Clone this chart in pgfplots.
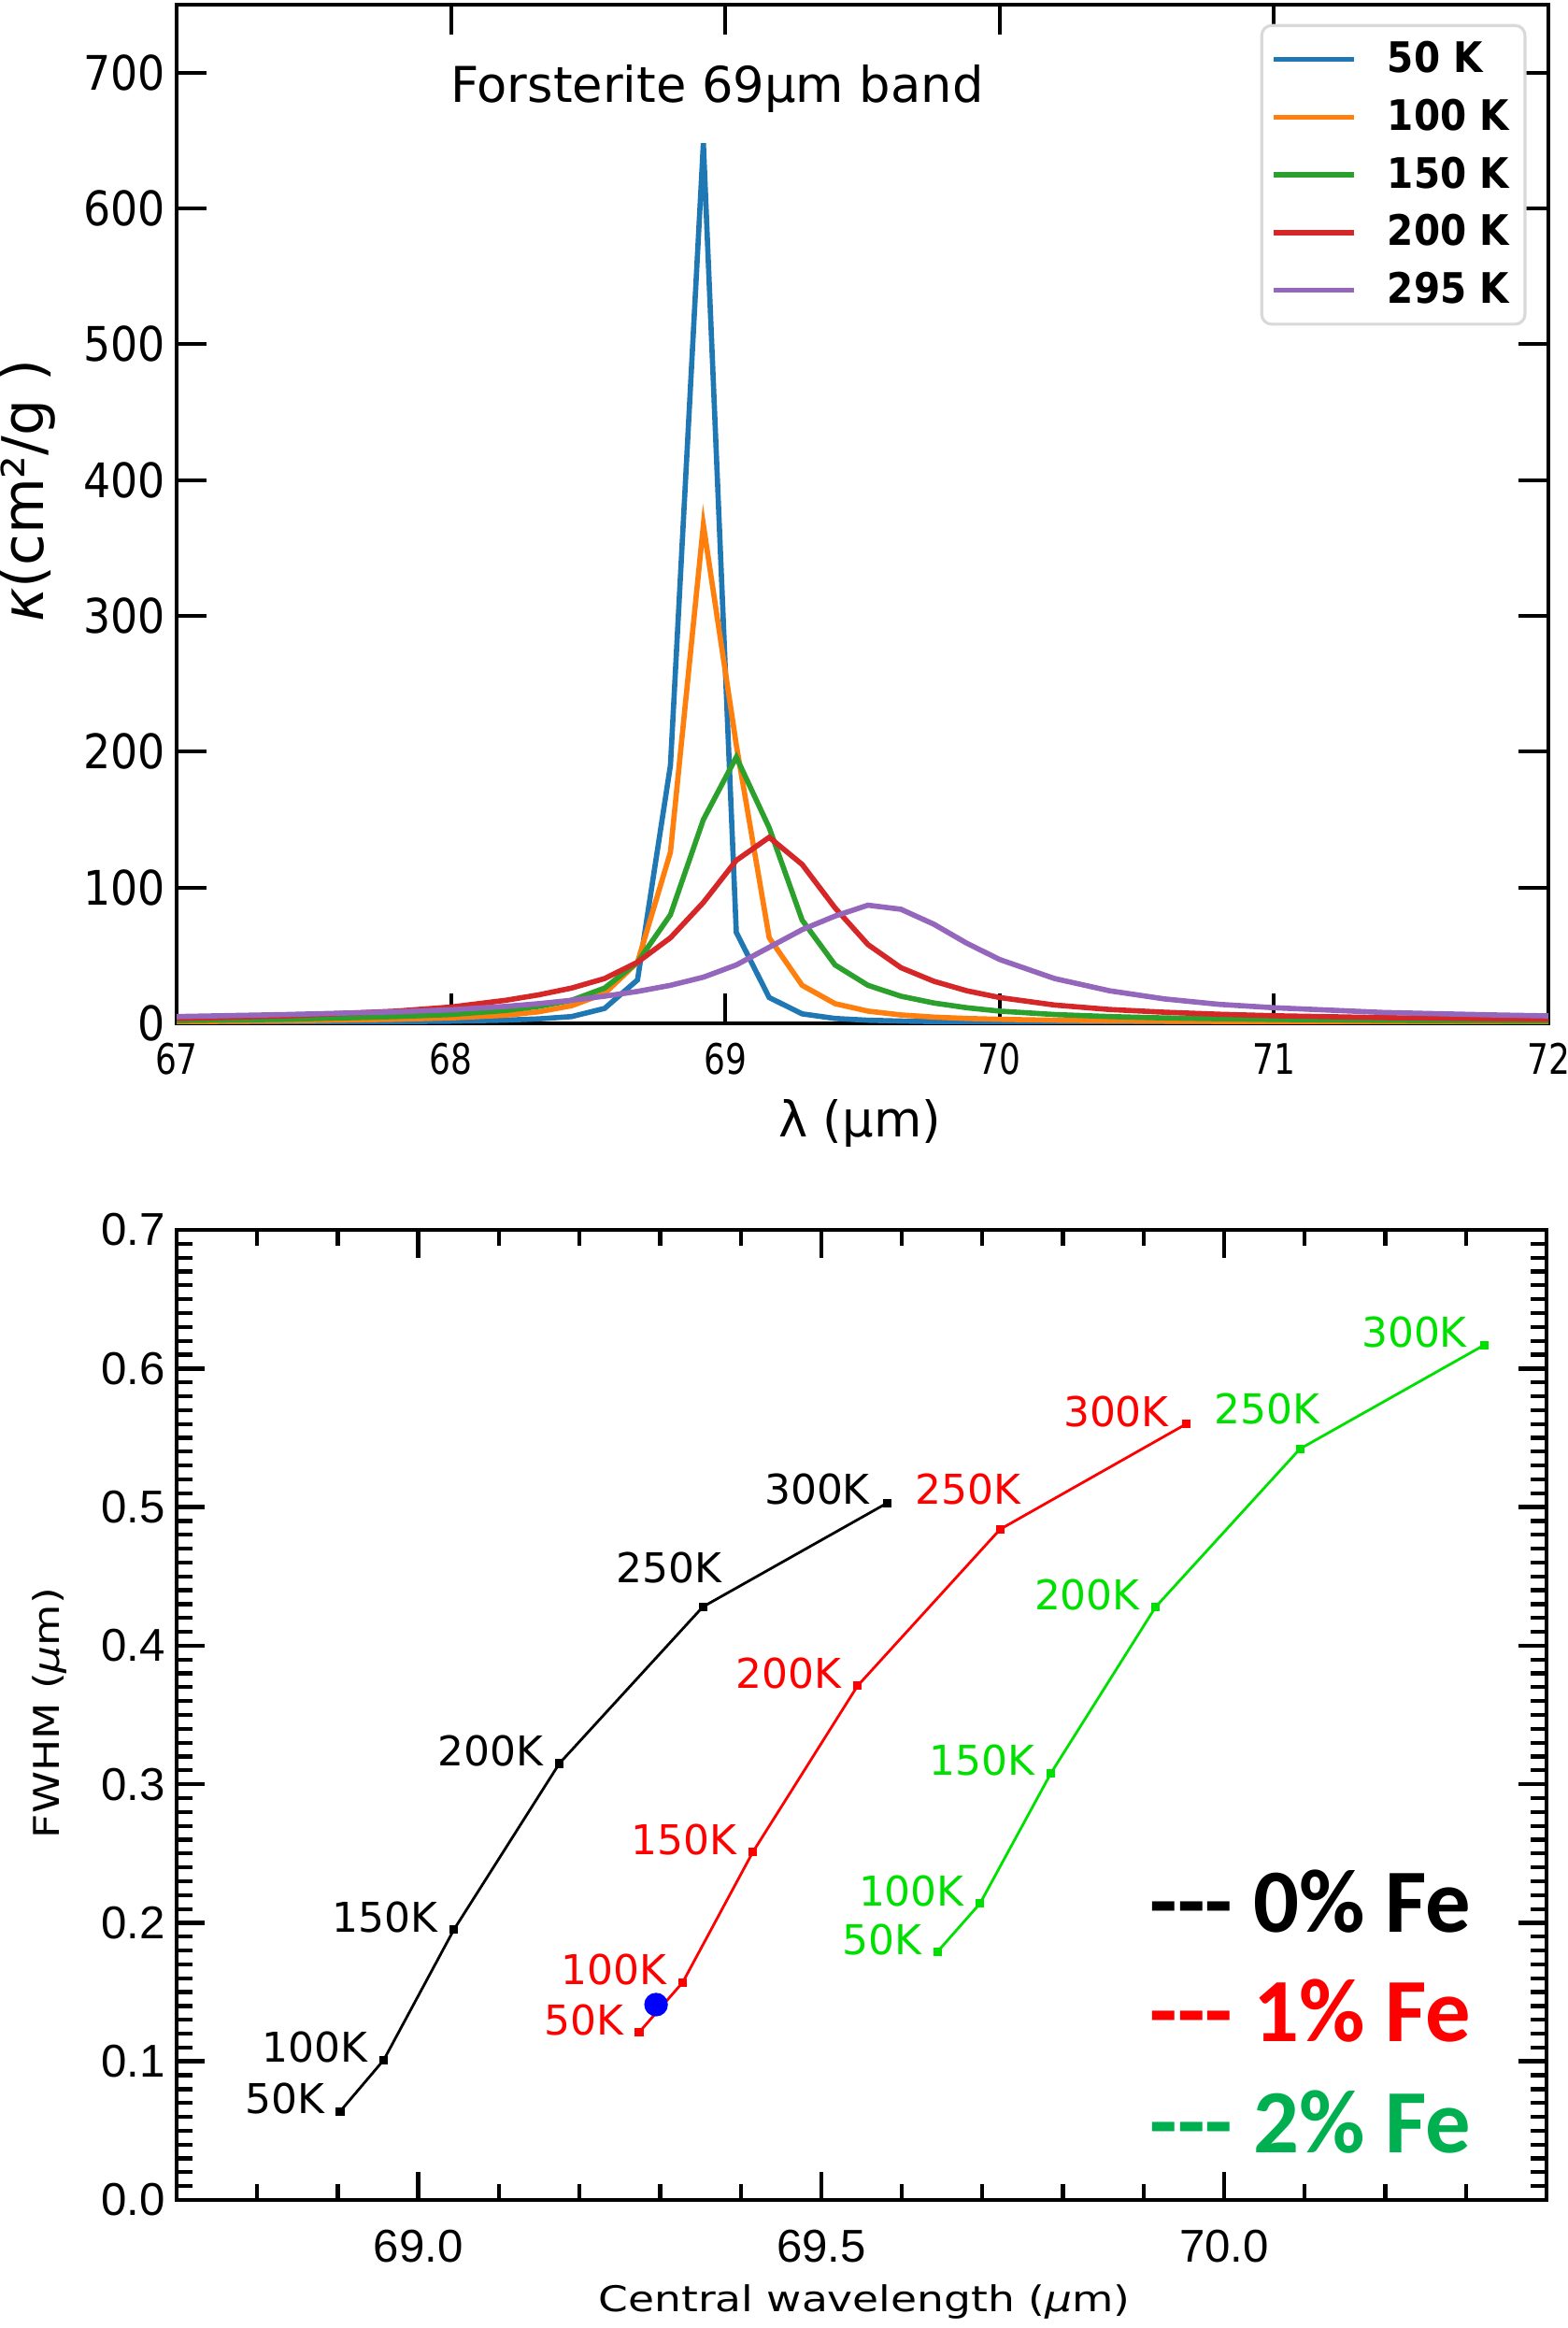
\documentclass[border=0pt]{standalone}
\usepackage{fontspec}
\setmainfont{DejaVu Sans}
\newfontfamily\mplfont[FakeStretch=0.9]{DejaVu Sans}
\newfontfamily\mplx[FakeStretch=0.8]{DejaVu Sans}
\newfontfamily\hersh[FakeStretch=1.2]{DejaVu Sans}
\newfontfamily\lib{Liberation Sans}
\newfontfamily\carl{Carlito}
\usepackage{pgfplots}
\pgfplotsset{compat=1.18}
\definecolor{cA}{HTML}{1F77B4}
\definecolor{cB}{HTML}{FF7F0E}
\definecolor{cC}{HTML}{2CA02C}
\definecolor{cD}{HTML}{D62728}
\definecolor{cE}{HTML}{9467BD}
\definecolor{idlgreen}{HTML}{00E000}
\definecolor{idlred}{HTML}{FF0000}
\definecolor{fegreen}{HTML}{00B050}

\pgfplotstableread{
x      k50   k100  k150  k200  k295
67.00  0.5   1.2   2.0   3.5   5.0
67.40  0.8   1.8   3.0   5.5   6.5
67.80  1.2   3.0   5.0   9.0   8.5
68.00  1.6   4.0   6.5   12    10
68.20  2.4   6.0   9.5   17    12.5
68.32  3.3   8.5   12.5  21    14.5
68.44  5     13    17    26    17
68.56  11    22    26    33    20
68.68  32    45    45    45    23.5
68.80  190   126   80    63    28
68.92  648   367   150   89    34
69.04  67    205   196   120   43
69.16  19    63    144   137   56
69.28  7     28    76    117   69
69.40  3.6   14.5  43    85    79
69.52  2.3   9     28    58    87
69.64  1.7   6.2   20    41    84
69.76  1.3   4.6   15    31    73
69.88  1.1   3.6   11.5  24    59
70.00  0.9   3.0   9     19    47
70.20  0.7   2.3   6.5   13.5  33
70.40  0.6   1.9   5     10.2  24
70.60  0.5   1.6   4     8.2   18
70.80  0.45  1.4   3.4   6.7   14
71.00  0.4   1.2   2.9   5.6   11.5
71.40  0.35  1.0   2.2   4.2   8
71.80  0.3   0.85  1.8   3.3   6.2
72.00  0.3   0.8   1.6   3.0   5.5
}\kappatab

\pgfplotstableread{
x       y
68.903  0.064
68.957  0.101
69.044  0.195
69.175  0.315
69.353  0.428
69.582  0.503
}\feA
\pgfplotstableread{
x       y
69.274  0.121
69.328  0.157
69.415  0.251
69.545  0.371
69.722  0.484
69.953  0.560
}\feB
\pgfplotstableread{
x       y
69.644  0.179
69.697  0.214
69.785  0.308
69.915  0.428
70.094  0.542
70.323  0.617
}\feC

\begin{document}
\begin{tikzpicture}
\path[use as bounding box] (0,0) rectangle (167.8mm,-249.1mm);

% ---------------- top panel ----------------
\begin{axis}[
  at={(18.9mm,-109.5mm)}, anchor=south west,
  scale only axis, width=146.8mm, height=109mm,
  xmin=67, xmax=72, ymin=0, ymax=750,
  xtick={67,68,69,70,71,72},
  ytick={0,100,200,300,400,500,600,700},
  tick align=inside, major tick length=3.2mm,
  major tick style={draw=black, line width=1.1pt},
  axis line style={line width=1.4pt},
  /pgf/number format/assume math mode=true,
  x tick label style={font=\mplx\fontsize{12.8}{13}\selectfont, yshift=-0.9mm},
  y tick label style={font=\mplfont\fontsize{14.5}{15}\selectfont},
  legend style={at={(rel axis cs:0.984,0.981)}, anchor=north east,
    draw=black!15, line width=0.9pt, rounded corners=3pt,
    font=\mplfont\bfseries\fontsize{12.8}{13}\selectfont,
    inner xsep=1.0mm, inner ysep=1.0mm, row sep=0.9mm,
    /tikz/every odd column/.append style={column sep=2.6mm}},
  legend cell align=left,
  legend image code/.code={\draw[#1] (0mm,0mm) -- (8.6mm,0mm);},
]
\addplot[cA, line width=1.6pt] table[x=x,y=k50] {\kappatab};
\addlegendentry{50 K}
\addplot[cB, line width=1.6pt] table[x=x,y=k100] {\kappatab};
\addlegendentry{100 K}
\addplot[cC, line width=1.6pt] table[x=x,y=k150] {\kappatab};
\addlegendentry{150 K}
\addplot[cD, line width=1.6pt] table[x=x,y=k200] {\kappatab};
\addlegendentry{200 K}
\addplot[cE, line width=1.6pt] table[x=x,y=k295] {\kappatab};
\addlegendentry{295 K}
\node[font=\fontsize{15}{15}\selectfont] at (axis cs:68.97,688) {Forsterite 69µm band};
\end{axis}
\node[font=\fontsize{15}{15}\selectfont] at (92mm,-120.2mm) {λ (µm)};
\node[rotate=90, font=\fontsize{17.5}{18}\selectfont] at (3.0mm,-52.5mm) {{\itshape κ}(cm²/g )};

% ---------------- bottom panel ----------------
\begin{axis}[
  at={(18.9mm,-235.4mm)}, anchor=south west,
  scale only axis, width=146.6mm, height=103.8mm,
  xmin=68.7, xmax=70.4, ymin=0, ymax=0.7,
  xtick={69,69.5,70},
  minor xtick={68.8,68.9,69.1,69.2,69.3,69.4,69.6,69.7,69.8,69.9,70.1,70.2,70.3},
  ytick={0,0.1,0.2,0.3,0.4,0.5,0.6,0.7},
  minor ytick={0.01,0.02,0.03,0.04,0.05,0.06,0.07,0.08,0.09,
    0.11,0.12,0.13,0.14,0.15,0.16,0.17,0.18,0.19,
    0.21,0.22,0.23,0.24,0.25,0.26,0.27,0.28,0.29,
    0.31,0.32,0.33,0.34,0.35,0.36,0.37,0.38,0.39,
    0.41,0.42,0.43,0.44,0.45,0.46,0.47,0.48,0.49,
    0.51,0.52,0.53,0.54,0.55,0.56,0.57,0.58,0.59,
    0.61,0.62,0.63,0.64,0.65,0.66,0.67,0.68,0.69},
  tick align=inside, major tick length=3.0mm, minor tick length=1.7mm,
  major tick style={draw=black, line width=1.3pt},
  minor tick style={draw=black, line width=1.2pt},
  axis line style={line width=1.1pt},
  /pgf/number format/assume math mode=true,
  tick label style={font=\lib\fontsize{14}{14}\selectfont},
  xticklabels={69.0,69.5,70.0},
  yticklabels={0.0,0.1,0.2,0.3,0.4,0.5,0.6,0.7},
  x tick label style={yshift=-2.0mm},
]
\addplot[black, line width=0.8pt, mark=square*, mark size=0.9pt] table[x=x,y=y] {\feA};
\addplot[idlred, line width=0.8pt, mark=square*, mark size=0.9pt] table[x=x,y=y] {\feB};
\addplot[idlgreen, line width=0.8pt, mark=square*, mark size=0.9pt] table[x=x,y=y] {\feC};
\addplot[only marks, mark=*, blue, mark size=3.4pt] coordinates {(69.295,0.141)};

\begin{scope}[every node/.style={font=\fontsize{12.5}{12.5}\selectfont, inner sep=0pt, anchor=east}]
% 0% Fe
\node[black] at (axis cs:68.884,0.073) {50K};
\node[black] at (axis cs:68.938,0.110) {100K};
\node[black] at (axis cs:69.025,0.204) {150K};
\node[black] at (axis cs:69.156,0.324) {200K};
\node[black] at (axis cs:69.377,0.456) {250K};
\node[black] at (axis cs:69.561,0.513) {300K};
% 1% Fe
\node[idlred] at (axis cs:69.255,0.130) {50K};
\node[idlred] at (axis cs:69.309,0.166) {100K};
\node[idlred] at (axis cs:69.396,0.260) {150K};
\node[idlred] at (axis cs:69.526,0.380) {200K};
\node[idlred] at (axis cs:69.748,0.513) {250K};
\node[idlred] at (axis cs:69.932,0.569) {300K};
% 2% Fe
\node[idlgreen] at (axis cs:69.625,0.188) {50K};
\node[idlgreen] at (axis cs:69.678,0.223) {100K};
\node[idlgreen] at (axis cs:69.766,0.317) {150K};
\node[idlgreen] at (axis cs:69.896,0.437) {200K};
\node[idlgreen] at (axis cs:70.119,0.571) {250K};
\node[idlgreen] at (axis cs:70.302,0.626) {300K};
\end{scope}

\begin{scope}[every node/.style={font=\carl\bfseries\fontsize{27.5}{28}\selectfont, inner sep=0pt, anchor=base west}]
\node[black] at (axis cs:69.907,0.1935) {-{}-{}- 0\% Fe};
\node[idlred] at (axis cs:69.907,0.114) {-{}-{}- 1\% Fe};
\node[fegreen] at (axis cs:69.907,0.0344) {-{}-{}- 2\% Fe};
\end{scope}
\end{axis}
\node[font=\hersh\fontsize{10.8}{11}\selectfont] at (92.5mm,-246.3mm) {Central wavelength ({\itshape µ}m)};
\node[rotate=90, font=\hersh\fontsize{10.8}{11}\selectfont] at (5.3mm,-183.3mm) {FWHM ({\itshape µ}m)};
\end{tikzpicture}
\end{document}
